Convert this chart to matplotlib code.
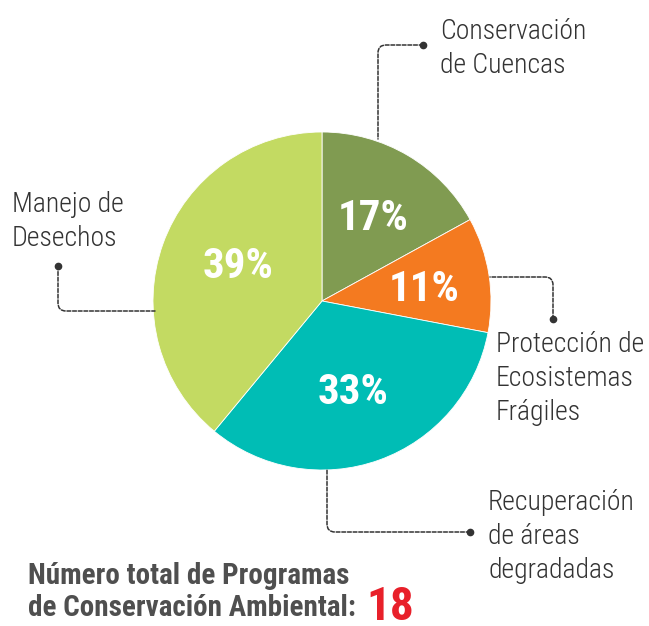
import numpy as np
import matplotlib
matplotlib.use("Agg")
import matplotlib.pyplot as plt

# ---- data ----
categories = [["Conservación", "de Cuencas"],
              ["Protección de", "Ecosistemas", "Frágiles"],
              ["Recuperación", "de áreas", "degradadas"],
              ["Manejo de", "Desechos"]]
values = [17, 11, 33, 39]
pct_labels = ["17%", "11%", "33%", "39%"]
colors = ["#809B51", "#F47A20", "#00BDB5", "#C3DA62"]
total_lines = ["Número total de Programas", "de Conservación Ambiental:"]
total_value = "18"

FONT = ["Roboto Condensed", "DejaVu Sans"]
TXT = "#333333"

W, H = 649, 626
fig = plt.figure(figsize=(W / 100, H / 100), dpi=100)
ax = fig.add_axes([0, 0, 1, 1])

cx, cy, R = 322, 301, 169
wedges, _, autotexts = ax.pie(values, colors=colors, startangle=-90, counterclock=True,
                              center=(cx, cy), radius=R, autopct="%d%%",
                              pctdistance=0.58,
                              wedgeprops=dict(edgecolor="white", linewidth=0.6))
ax.set_xlim(0, W)
ax.set_ylim(H, 0)
ax.set_aspect("equal")
ax.axis("off")

pct_dist = [0.60, 0.61, 0.55, 0.55]
pct_shift = [0, 0, 0, 5]
for w, t, lab, d, s in zip(wedges, autotexts, pct_labels, pct_dist, pct_shift):
    mid = np.deg2rad((w.theta1 + w.theta2) / 2 + s)
    t.set_position((cx + d * R * np.cos(mid), cy + d * R * np.sin(mid)))
    t.set_text(lab)
    t.set_color("white")
    t.set_fontsize(31)
    t.set_fontweight("bold")
    t.set_family(FONT)
    t.set_va("center_baseline")
    t.set_ha("center")

# ---- category labels (baseline of first line) ----
label_pos = [(440, 39), (496, 352), (488, 510), (12, 212)]
LS = 34
for lines, (x, y) in zip(categories, label_pos):
    for i, line in enumerate(lines):
        ax.text(x, y + i * LS, line, ha="left", va="baseline", fontsize=20,
                fontweight=300, color=TXT, family=FONT)

# ---- leader lines ----
leaders = [
    ((423, 45), (378, 139), 180, 90),
    ((553, 319), (490, 277), 90, 0),
    ((470, 532), (327, 469), 0, 90),
    ((58, 266), (155, 311), 90, 0),
]
for (dot, edge, aA, aB) in leaders:
    ax.annotate("", xy=edge, xytext=dot,
                arrowprops=dict(arrowstyle="-", color=TXT, lw=1.1,
                                linestyle=(0, (2.5, 1.2)),
                                shrinkA=0, shrinkB=0,
                                connectionstyle=f"angle,angleA={aA},angleB={aB},rad=8"))
    ax.plot(*dot, "o", color=TXT, markersize=4.5)

# ---- total ----
for i, line in enumerate(total_lines):
    ax.text(28, 584 + i * 32, line, ha="left", va="baseline", fontsize=21,
            fontweight="bold", color="#4F4F4F", family=FONT)
ax.text(366, 620, total_value, ha="left", va="baseline", fontsize=34,
        fontweight="bold", color="#E8202A", family=FONT)

fig.savefig("out.png", dpi=100)
